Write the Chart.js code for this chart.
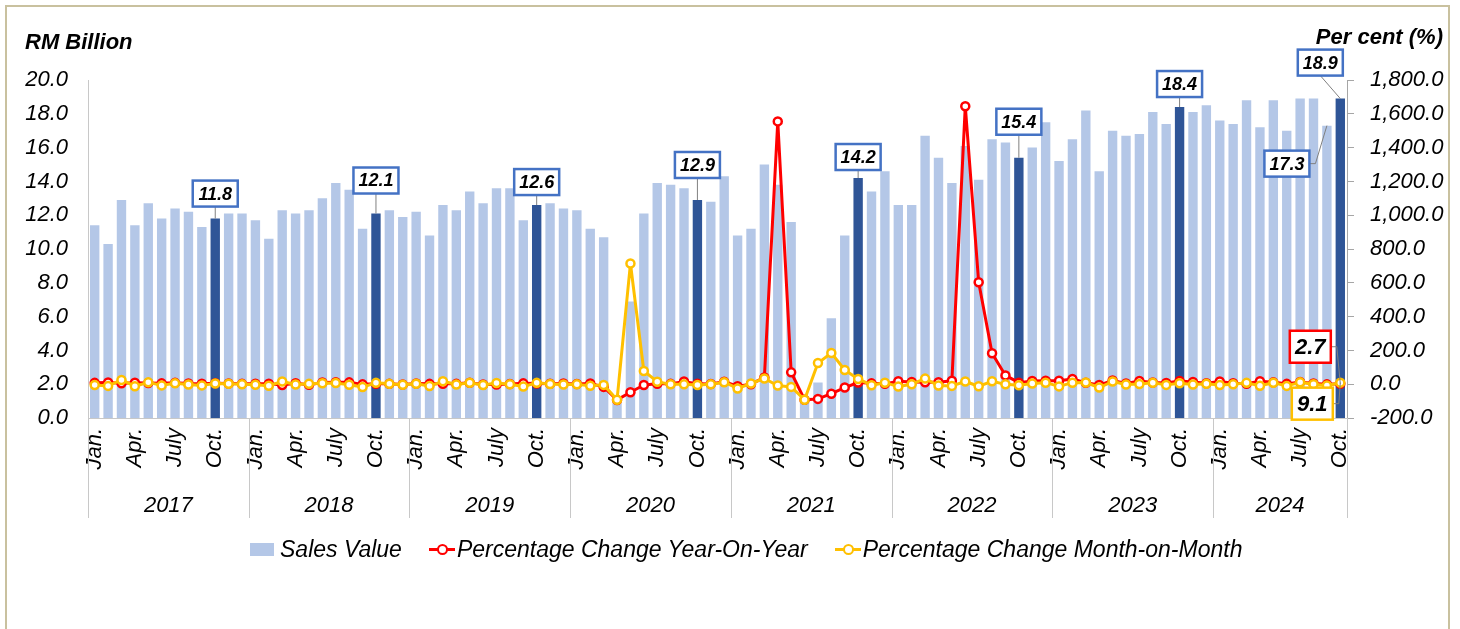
<!DOCTYPE html>
<html>
<head>
<meta charset="utf-8">
<title>Sales Value</title>
<script src="https://cdn.jsdelivr.net/npm/chart.js@4.4.1/dist/chart.umd.min.js"></script>
<style>
    body { margin: 0; background: #fff; }
    #wrap { position: relative; width: 1460px; height: 629px; overflow: hidden; font-family: "Liberation Sans", Arial, sans-serif; }
    #frame { position: absolute; left: 5px; top: 5px; width: 1441px; height: 700px; border: 2px solid #c9c19f; }
    #salesChart { position: absolute; left: 0; top: 0; }
    .unit { position: absolute; font-size: 22px; font-weight: bold; font-style: italic; color: #000; line-height: 26px; }
    #unitLeft { left: 25px; top: 29px; }
    #unitRight { right: 17px; top: 24px; }
    #legend { position: absolute; left: 250px; top: 535px; height: 28px; display: flex; align-items: center; font-size: 23px; font-style: italic; color: #000; white-space: nowrap; }
    .legend-item { display: flex; align-items: center; margin-right: 27px; }
    .legend-box { width: 24px; height: 13px; margin-right: 6px; }
    .legend-line { position: relative; width: 26px; height: 3px; margin-right: 2px; }
    .legend-line i { position: absolute; left: 8px; top: -4px; width: 7px; height: 7px; border-radius: 50%; background: #fff; border: 2px solid; }
</style>
</head>
<body>
<div id="wrap">
    <div id="frame"></div>
    <canvas id="salesChart" width="1460" height="629"></canvas>
    <div class="unit" id="unitLeft">RM Billion</div>
    <div class="unit" id="unitRight">Per cent (%)</div>
    <div id="legend"></div>
</div>
<script>
// Categories
const years = ['2017', '2018', '2019', '2020', '2021', '2022', '2023', '2024'];
const monthNames = ['Jan.', 'Feb.', 'Mar.', 'Apr.', 'May', 'June', 'July', 'Aug.', 'Sept.', 'Oct.', 'Nov.', 'Dec.'];
const shownMonths = ['Jan.', 'Apr.', 'July', 'Oct.'];

// Sales value, RM billion (Jan 2017 - Oct 2024)
const salesValue = [
    11.4, 10.3, 12.9, 11.4, 12.7, 11.8, 12.4, 12.2, 11.3, 11.8, 12.1, 12.1,
    11.7, 10.6, 12.3, 12.1, 12.3, 13.0, 13.9, 13.5, 11.2, 12.1, 12.3, 11.9,
    12.2, 10.8, 12.6, 12.3, 13.4, 12.7, 13.6, 13.6, 11.7, 12.6, 12.7, 12.4,
    12.3, 11.2, 10.7, 0.9, 6.9, 12.1, 13.9, 13.8, 13.6, 12.9, 12.8, 14.3,
    10.8, 11.2, 15.0, 13.8, 11.6, 1.0, 2.1, 5.9, 10.8, 14.2, 13.4, 14.6,
    12.6, 12.6, 16.7, 15.4, 13.9, 16.1, 14.1, 16.5, 16.3, 15.4, 16.0, 17.5,
    15.2, 16.5, 18.2, 14.6, 17.0, 16.7, 16.8, 18.1, 17.4, 18.4, 18.1, 18.5,
    17.6, 17.4, 18.8, 17.2, 18.8, 17.0, 18.9, 18.9, 17.3, 18.9
];

// Percentage change year-on-year
const yoyChange = [
    8, 10, 6, 9, 7, 5, 8, 4, 3, 6, 4, 2,
    3, 3, -5, 6, -3, 10, 12, 11, -1, 3, 2, -2,
    4, 2, 2, 2, 9, -2, -2, 1, 5, 4, 3, 4,
    1, 4, -16, -93, -48, -5, 2, 2, 16, 2, 1, 15,
    -12, 0, 40, 1555, 70, -92, -87, -56, -20, 10, 5, 2,
    17, 13, 11, 12, 20, 1645, 603, 183, 52, 9, 19, 20,
    21, 31, 9, -5, 22, 4, 19, 10, 7, 19, 13, 6,
    16, 6, 3, 18, 11, 2, 13, 4, -1, 2.7
];

// Percentage change month-on-month
const momChange = [
    -5, -10, 25, -12, 11, -7, 5, -2, -7, 4, 3, 0,
    -3, -9, 16, -2, 2, 6, 7, -3, -17, 8, 2, -3,
    3, -11, 17, -2, 9, -5, 7, 0, -14, 8, 1, -2,
    -1, -9, -4, -92, 714, 78, 15, -1, -1, -5, -1, 12,
    -25, 4, 34, -8, -16, -92, 125, 185, 84, 31, -6, 9,
    -14, 0, 33, -8, -10, 16, -12, 17, -1, -6, 4, 9,
    -13, 9, 10, -20, 16, -2, 1, 8, -4, 6, -2, 2,
    -5, -1, 8, -9, 9, -10, 11, 0, -8, 9.1
];

const FONT = '"Liberation Sans", Arial, sans-serif';
const LIGHT_BAR = '#B4C7E7';
const DARK_BAR = '#2F5597';

const labels = salesValue.map((_, i) => monthNames[i % 12]);
const barColors = labels.map(m => m === 'Oct.' ? DARK_BAR : LIGHT_BAR);

// boxed value labels: which point, where the box sits relative to it
const callouts = [
    { series: 0, index: 9,  dx: 0,   dy: -25, w: 45, h: 26, color: '#4472C4', size: 18, leader: 'drop' },
    { series: 0, index: 21, dx: 0,   dy: -33, w: 45, h: 26, color: '#4472C4', size: 18, leader: 'drop' },
    { series: 0, index: 33, dx: 0,   dy: -23, w: 45, h: 26, color: '#4472C4', size: 18, leader: 'drop' },
    { series: 0, index: 45, dx: 0,   dy: -35, w: 45, h: 26, color: '#4472C4', size: 18, leader: 'drop' },
    { series: 0, index: 57, dx: 0,   dy: -21, w: 45, h: 26, color: '#4472C4', size: 18, leader: 'drop' },
    { series: 0, index: 69, dx: 0,   dy: -36, w: 45, h: 26, color: '#4472C4', size: 18, leader: 'drop' },
    { series: 0, index: 81, dx: 0,   dy: -23, w: 45, h: 26, color: '#4472C4', size: 18, leader: 'drop' },
    { series: 0, index: 93, dx: -20, dy: -36, w: 45, h: 26, color: '#4472C4', size: 18, leader: 'drop' },
    { series: 0, index: 92, dx: -40, dy: 38,  w: 45, h: 26, color: '#4472C4', size: 18, leader: 'side' },
    { series: 1, index: 93, dx: -30, dy: -37, w: 41, h: 32, color: '#FF0000', size: 22, leader: 'side' },
    { series: 2, index: 93, dx: -28, dy: 21,  w: 41, h: 32, color: '#FFC000', size: 22, leader: 'side' }
];

const calloutPlugin = {
    id: 'callouts',
    afterDatasetsDraw(chart) {
        const ctx = chart.ctx;
        callouts.forEach(c => {
            const el = chart.getDatasetMeta(c.series).data[c.index];
            const value = chart.data.datasets[c.series].data[c.index];
            const cx = el.x + c.dx;
            const cy = el.y + c.dy;
            const left = cx - c.w / 2;
            const top = cy - c.h / 2;

            ctx.save();
            ctx.strokeStyle = '#808080';
            ctx.lineWidth = 1;
            ctx.beginPath();
            if (c.leader === 'side') {
                ctx.moveTo(left + c.w, cy);
                ctx.lineTo(left + c.w + 6, cy);
                ctx.lineTo(el.x, el.y);
            } else {
                ctx.moveTo(cx, top + c.h);
                ctx.lineTo(el.x, el.y);
            }
            ctx.stroke();

            ctx.fillStyle = '#fff';
            ctx.fillRect(left, top, c.w, c.h);
            ctx.strokeStyle = c.color;
            ctx.lineWidth = 2.5;
            ctx.strokeRect(left, top, c.w, c.h);

            ctx.fillStyle = '#000';
            ctx.font = `italic bold ${c.size}px ${FONT}`;
            ctx.textAlign = 'center';
            ctx.textBaseline = 'middle';
            ctx.fillText(value.toFixed(1), cx, cy + 1);
            ctx.restore();
        });
    }
};

// year row under the month labels, with separators
const yearAxisPlugin = {
    id: 'yearAxis',
    afterDraw(chart) {
        const { ctx, chartArea } = chart;
        const x = chart.scales.x;
        const step = x.getPixelForValue(1) - x.getPixelForValue(0);
        const bottom = chartArea.bottom;

        ctx.save();
        ctx.strokeStyle = '#c8c8c8';
        ctx.lineWidth = 1;
        ctx.fillStyle = '#000';
        ctx.font = `italic 22px ${FONT}`;
        ctx.textAlign = 'center';
        ctx.textBaseline = 'middle';

        years.forEach((year, y) => {
            const first = y * 12;
            const last = Math.min(first + 11, salesValue.length - 1);
            const left = x.getPixelForValue(first) - step / 2;
            const right = x.getPixelForValue(last) + step / 2;

            ctx.beginPath();
            ctx.moveTo(Math.round(left) + 0.5, bottom);
            ctx.lineTo(Math.round(left) + 0.5, bottom + 100);
            if (y === years.length - 1) {
                ctx.moveTo(Math.round(right) + 0.5, bottom);
                ctx.lineTo(Math.round(right) + 0.5, bottom + 100);
            }
            ctx.stroke();

            ctx.fillText(year, (left + right) / 2, bottom + 88);
        });
        ctx.restore();
    }
};

const datasets = [
    {
        type: 'bar',
        label: 'Sales Value',
        data: salesValue,
        yAxisID: 'y',
        backgroundColor: barColors,
        barPercentage: 0.7,
        categoryPercentage: 1.0,
        order: 3
    },
    {
        type: 'line',
        label: 'Percentage Change Year-On-Year',
        data: yoyChange,
        yAxisID: 'y1',
        borderColor: '#FF0000',
        borderWidth: 3,
        borderJoinStyle: 'round',
        pointRadius: 4,
        pointBorderWidth: 2.5,
        pointBackgroundColor: '#fff',
        pointBorderColor: '#FF0000',
        tension: 0,
        order: 2
    },
    {
        type: 'line',
        label: 'Percentage Change Month-on-Month',
        data: momChange,
        yAxisID: 'y1',
        borderColor: '#FFC000',
        borderWidth: 3,
        borderJoinStyle: 'round',
        pointRadius: 4,
        pointBorderWidth: 2.5,
        pointBackgroundColor: '#fff',
        pointBorderColor: '#FFC000',
        tension: 0,
        order: 1
    }
];

const chart = new Chart(document.getElementById('salesChart'), {
    type: 'bar',
    data: { labels, datasets },
    options: {
        responsive: false,
        animation: false,
        devicePixelRatio: 1,
        events: [],
        layout: { padding: { top: 80, left: 0, right: 0, bottom: 0 } },
        plugins: {
            legend: { display: false },
            tooltip: { enabled: false }
        },
        scales: {
            x: {
                grid: { display: false, drawTicks: false },
                border: { display: true, color: '#c8c8c8' },
                ticks: {
                    autoSkip: false,
                    minRotation: 90,
                    maxRotation: 90,
                    padding: 10,
                    color: '#000',
                    font: { family: FONT, size: 22, style: 'italic' },
                    callback(value) {
                        const m = this.getLabelForValue(value);
                        return shownMonths.includes(m) ? m : '';
                    }
                },
                afterFit(scale) { scale.height = 211; }
            },
            y: {
                position: 'left',
                min: 0,
                max: 20,
                grid: { display: false, drawTicks: false },
                border: { display: true, color: '#c8c8c8' },
                ticks: {
                    stepSize: 2,
                    padding: 20,
                    color: '#000',
                    font: { family: FONT, size: 22, style: 'italic' },
                    callback: v => v.toFixed(1)
                },
                afterFit(scale) { scale.width = 88; }
            },
            y1: {
                position: 'right',
                min: -200,
                max: 1800,
                grid: { drawOnChartArea: false, drawTicks: true, tickLength: 7, color: '#a6a6a6' },
                border: { display: true, color: '#a6a6a6' },
                ticks: {
                    stepSize: 200,
                    padding: 16,
                    color: '#000',
                    font: { family: FONT, size: 22, style: 'italic' },
                    callback: v => v.toLocaleString('en-US', { minimumFractionDigits: 1, maximumFractionDigits: 1 })
                },
                afterFit(scale) { scale.width = 113; }
            }
        }
    },
    plugins: [calloutPlugin, yearAxisPlugin]
});

// legend
document.getElementById('legend').innerHTML = datasets.map(ds => {
    const key = ds.type === 'bar'
        ? `<span class="legend-box" style="background:${LIGHT_BAR}"></span>`
        : `<span class="legend-line" style="background:${ds.borderColor}"><i style="border-color:${ds.borderColor}"></i></span>`;
    return `<span class="legend-item">${key}${ds.label}</span>`;
}).join('');
</script>
</body>
</html>
